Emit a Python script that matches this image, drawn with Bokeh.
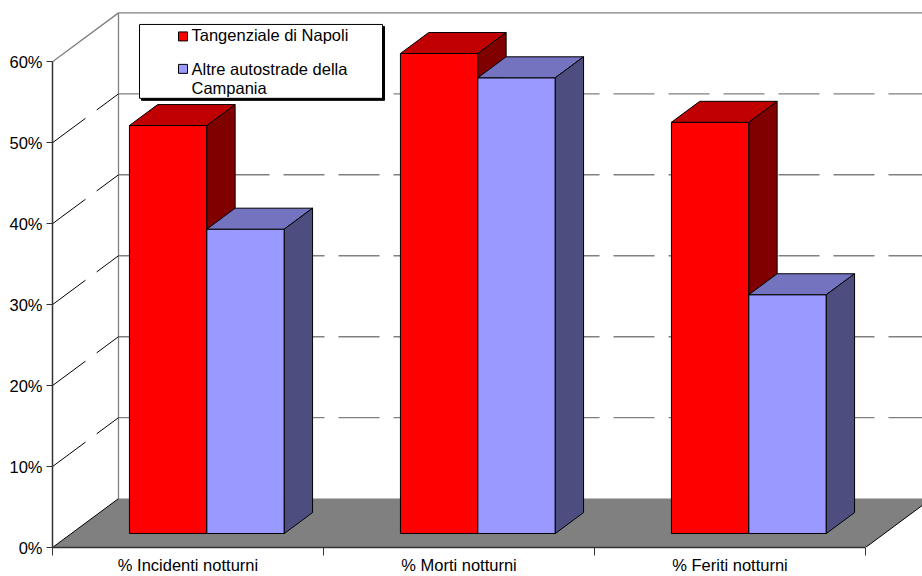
from bokeh.plotting import figure
from bokeh.models import Range1d, FixedTicker, NumeralTickFormatter
from bokeh.core.properties import value
from bokeh.embed import file_html
from bokeh.resources import INLINE

# ---- data -------------------------------------------------------------
categories = ["% Incidenti notturni", "% Morti notturni", "% Feriti notturni"]
series_names = ["Tangenziale di Napoli", "Altre autostrade della\nCampania"]
tangenziale = [0.504, 0.593, 0.508]
altre_autostrade = [0.376, 0.563, 0.295]
y_ticks = [0.0, 0.1, 0.2, 0.3, 0.4, 0.5, 0.6]

# ---- styling -----------------------------------------------------------
FONT = value("Liberation Sans")
FONT_SIZE = "16.5px"
# (front, top, side) shades for each series
SHADES = [("#FF0000", "#C00000", "#800000"),
          ("#9999FF", "#7373BF", "#4D4D80")]
FLOOR = "#808080"
AXIS = "#333333"

# ---- geometry (pixels -> data) ------------------------------------------
W, H = 922, 576
LEFT, BOTTOM = 52, 28
PX_PER_CAT = 271.0
PX_PER_UNIT = 811.0
x_end = (W - LEFT) / PX_PER_CAT
y_end = (H - BOTTOM) / PX_PER_UNIT

# oblique depth offset of the 3-D box
DX = 66 / PX_PER_CAT
DY = 49 / PX_PER_UNIT
WALL_TOP = y_ticks[-1]
N = len(categories)

# bars: gap width 150%, bars sit in the middle of the depth
BAR_W = 1 / 3.5
GAP = (1 - 2 * BAR_W) / 2
T0, T1 = 2 / 7, 5 / 7


def sx(px):
    return (px - LEFT) / PX_PER_CAT


def sy(py):
    return (H - BOTTOM - py) / PX_PER_UNIT


p = figure(width=W, height=H, output_backend="svg", toolbar_location=None,
           x_range=Range1d(0, x_end), y_range=Range1d(0, y_end),
           min_border_left=LEFT, min_border_bottom=BOTTOM,
           min_border_top=0, min_border_right=0,
           background_fill_color="white", border_fill_color="white")
p.outline_line_color = None
p.grid.visible = False

# ---- walls ------------------------------------------------------------
# side wall top edge, back-left vertical edge, back wall top edge
p.line([0, DX, DX], [WALL_TOP, WALL_TOP + DY, DY], line_color="#808080", line_width=1.3)
p.line([DX, N + DX + 1], [WALL_TOP + DY, WALL_TOP + DY], line_color="#808080", line_width=1.3)

grid_vals = [v for v in y_ticks if 0 < v < WALL_TOP]
# back wall gridlines
p.segment(x0=[DX] * len(grid_vals), y0=[v + DY for v in grid_vals],
          x1=[N + DX + 1] * len(grid_vals), y1=[v + DY for v in grid_vals],
          line_color="#808080", line_width=1.4, line_dash="41 14")
# side wall gridlines
p.segment(x0=[0] * len(grid_vals), y0=grid_vals,
          x1=[DX] * len(grid_vals), y1=[v + DY for v in grid_vals],
          line_color="black", line_width=1, line_dash="41 14")

# ---- floor ------------------------------------------------------------
p.patch([0, N, N + DX, DX], [0, 0, DY, DY], fill_color=FLOOR, line_color=None)
p.segment(x0=[0, N], y0=[0, 0], x1=[DX, N + DX], y1=[DY, DY],
          line_color="black", line_width=1)

# ---- bars -------------------------------------------------------------
xs, ys, fills = [], [], []
for i in range(N):
    for s, vals in enumerate([tangenziale, altre_autostrade]):
        v = vals[i]
        x0 = i + GAP + s * BAR_W
        x1 = x0 + BAR_W
        fx0, fx1 = x0 + T0 * DX, x1 + T0 * DX
        bx0, bx1 = x0 + T1 * DX, x1 + T1 * DX
        fy0, fy1 = T0 * DY, v + T0 * DY
        by0, by1 = T1 * DY, v + T1 * DY
        front, top, side = SHADES[s]
        # front face
        xs.append([fx0, fx1, fx1, fx0]); ys.append([fy0, fy0, fy1, fy1]); fills.append(front)
        # top face
        xs.append([fx0, fx1, bx1, bx0]); ys.append([fy1, fy1, by1, by1]); fills.append(top)
        # right side face
        xs.append([fx1, bx1, bx1, fx1]); ys.append([fy0, by0, by1, fy1]); fills.append(side)

p.patches(xs, ys, fill_color=fills, line_color="black", line_width=1)

# ---- legend -----------------------------------------------------------
lx0, ly0, lx1, ly1 = 139, 24, 382, 98
p.quad(left=sx(lx0 + 2), right=sx(lx1 + 2), top=sy(ly0 + 2), bottom=sy(ly1 + 2),
       fill_color="black", line_color="black")
p.quad(left=sx(lx0), right=sx(lx1), top=sy(ly0), bottom=sy(ly1),
       fill_color="white", line_color="black", line_width=1)
sw_cx = [182.5, 182.5]
sw_cy = [36, 68.5]
p.rect(x=[sx(c) for c in sw_cx], y=[sy(c) for c in sw_cy],
       width=9, height=9, width_units="screen", height_units="screen",
       fill_color=[SHADES[0][0], SHADES[1][0]], line_color="black", line_width=1)
p.text(x=[sx(191), sx(191)], y=[sy(26), sy(60)], text=series_names,
       text_font=FONT, text_font_size=FONT_SIZE, text_color="black",
       text_baseline="top", text_align="left", text_line_height=1.03)

# ---- axes -------------------------------------------------------------
ya = p.yaxis[0]
ya.ticker = FixedTicker(ticks=y_ticks)
ya.formatter = NumeralTickFormatter(format="0%")
ya.bounds = (0, WALL_TOP)
ya.axis_line_color = AXIS
ya.axis_line_width = 1.5
ya.major_tick_line_color = AXIS
ya.major_tick_in = 0
ya.major_tick_out = 6
ya.minor_tick_line_color = None
ya.major_label_standoff = 4
ya.major_label_text_font = "Liberation Sans"
ya.major_label_text_font_size = FONT_SIZE
ya.major_label_text_color = "black"

xa = p.xaxis[0]
centers = [i + 0.5 for i in range(N)]
xa.ticker = FixedTicker(ticks=centers, minor_ticks=list(range(N + 1)))
xa.major_label_overrides = {c: lab for c, lab in zip(centers, categories)}
xa.bounds = (0, N)
xa.axis_line_color = AXIS
xa.axis_line_width = 1.5
xa.major_tick_in = 0
xa.major_tick_out = 0
xa.minor_tick_line_color = AXIS
xa.minor_tick_in = 0
xa.minor_tick_out = 8
xa.major_label_standoff = 0
xa.major_label_text_font = "Liberation Sans"
xa.major_label_text_font_size = FONT_SIZE
xa.major_label_text_color = "black"

open("out.html", "w").write(file_html(p, INLINE))
